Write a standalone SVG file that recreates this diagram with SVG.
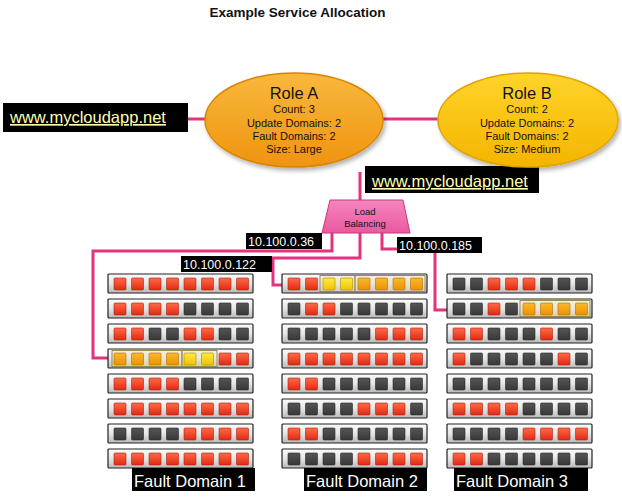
<svg xmlns="http://www.w3.org/2000/svg" xmlns:xlink="http://www.w3.org/1999/xlink" width="622" height="501" viewBox="0 0 622 501">
<defs>
<linearGradient id="gA" x1="0" y1="0" x2="0" y2="1"><stop offset="0" stop-color="#f9b83c"/><stop offset="1" stop-color="#ef9410"/></linearGradient>
<linearGradient id="gB" x1="0" y1="0" x2="0" y2="1"><stop offset="0" stop-color="#ffd42a"/><stop offset="1" stop-color="#f4b400"/></linearGradient>
<linearGradient id="gLB" x1="0" y1="0" x2="0" y2="1"><stop offset="0" stop-color="#f585be"/><stop offset="1" stop-color="#e9599f"/></linearGradient>
<linearGradient id="gRk" x1="0" y1="0" x2="0" y2="1"><stop offset="0" stop-color="#fbfbfb"/><stop offset="0.5" stop-color="#e6e6e6"/><stop offset="1" stop-color="#b9b9b9"/></linearGradient>
<linearGradient id="gR" x1="0" y1="0" x2="0" y2="1"><stop offset="0" stop-color="#ff6a48"/><stop offset="1" stop-color="#e02a12"/></linearGradient>
<linearGradient id="gD" x1="0" y1="0" x2="0" y2="1"><stop offset="0" stop-color="#555"/><stop offset="1" stop-color="#383838"/></linearGradient>
<linearGradient id="gO" x1="0" y1="0" x2="0" y2="1"><stop offset="0" stop-color="#fbb830"/><stop offset="1" stop-color="#ec9200"/></linearGradient>
<linearGradient id="gY" x1="0" y1="0" x2="0" y2="1"><stop offset="0" stop-color="#ffe84a"/><stop offset="1" stop-color="#efc400"/></linearGradient>
<filter id="sh" x="-10%" y="-10%" width="130%" height="130%"><feDropShadow dx="2" dy="3" stdDeviation="2" flood-color="#000" flood-opacity="0.3"/></filter>
<rect id="s" y="4" width="12" height="12" rx="1"/>
</defs>
<style>
text{font-family:"Liberation Sans",Arial,sans-serif}
.title{font-weight:bold;font-size:13.5px;fill:#111}
.lbl{fill:#000}
.url{font-size:16.5px;fill:#ffffb0;text-decoration:underline}
.ip{font-size:12.5px;fill:#fff}
.fd{font-size:16.5px;fill:#fff}
.rt{font-size:16.5px;fill:#111}
.rs{font-size:11px;fill:#111}
.ln{fill:none;stroke:#e3337f;stroke-width:3}
.rk{fill:url(#gRk);stroke:#222;stroke-width:1.2}
.r{fill:url(#gR);stroke:#b02210;stroke-width:0.6}
.d{fill:url(#gD);stroke:#2a2a2a;stroke-width:0.6}
.o{fill:url(#gO);stroke:#b07000;stroke-width:0.6}
.y{fill:url(#gY);stroke:#a88a00;stroke-width:0.6}
.hb{fill:#f3e3b0;fill-opacity:0.35;stroke:#9a8a50;stroke-width:1}
</style>

<text class="title" x="297.5" y="17" text-anchor="middle">Example Service Allocation</text>

<g id="connectors">
<line class="ln" x1="188" y1="119" x2="206" y2="119"/>
<line class="ln" x1="382" y1="119" x2="440" y2="119"/>
<line class="ln" x1="360" y1="172" x2="360" y2="201"/>
<polyline class="ln" points="332,232 332,251 93,251 93,358 109,358"/>
<polyline class="ln" points="360,232 360,258 273,258 273,285 283,285"/>
<polyline class="ln" points="382,232 382,249 435,249 435,310 448,310"/>
<g id="ip36"><rect class="lbl" x="246" y="233" width="76" height="16"/><text class="ip" x="248" y="246">10.100.0.36</text></g>
<g id="ip122"><rect class="lbl" x="181" y="256" width="91" height="16"/><text class="ip" x="183" y="269">10.100.0.122</text></g>
<g id="ip185"><rect class="lbl" x="397" y="237" width="85" height="16"/><text class="ip" x="399" y="250">10.100.0.185</text></g>
</g>

<g id="url1"><rect class="lbl" x="3" y="103" width="185" height="29"/><text class="url" x="10" y="123">www.mycloudapp.net</text></g>
<g id="url2"><rect class="lbl" x="365" y="166" width="174" height="27"/><text class="url" x="372" y="187">www.mycloudapp.net</text></g>

<g id="roleA">
<ellipse cx="294" cy="120" rx="89" ry="47" fill="url(#gA)" stroke="#d98500" stroke-width="1.5" filter="url(#sh)"/>
<text class="rt" x="294" y="99" text-anchor="middle">Role A</text>
<text class="rs" x="294" y="113" text-anchor="middle">Count: 3</text>
<text class="rs" x="294" y="127" text-anchor="middle">Update Domains: 2</text>
<text class="rs" x="294" y="140" text-anchor="middle">Fault Domains: 2</text>
<text class="rs" x="294" y="153" text-anchor="middle">Size: Large</text>
</g>
<g id="roleB">
<ellipse cx="528" cy="120" rx="90" ry="47" fill="url(#gB)" stroke="#e0a400" stroke-width="1.5" filter="url(#sh)"/>
<text class="rt" x="527" y="99" text-anchor="middle">Role B</text>
<text class="rs" x="527" y="113" text-anchor="middle">Count: 2</text>
<text class="rs" x="527" y="127" text-anchor="middle">Update Domains: 2</text>
<text class="rs" x="527" y="140" text-anchor="middle">Fault Domains: 2</text>
<text class="rs" x="527" y="153" text-anchor="middle">Size: Medium</text>
</g>

<g id="lb">
<polygon points="330,200 403,200 410,233 322,233" fill="url(#gLB)" stroke="#c8397c" stroke-width="1"/>
<text x="365" y="215" text-anchor="middle" font-size="9.5" fill="#111">Load</text>
<text x="365" y="227" text-anchor="middle" font-size="9.5" fill="#111">Balancing</text>
</g>

<g id="fd1">
<g transform="translate(108,274)"><rect class="rk" width="145" height="19" rx="1"/><use href="#s" x="6" class="r"/><use href="#s" x="23.5" class="r"/><use href="#s" x="41" class="r"/><use href="#s" x="58.5" class="r"/><use href="#s" x="76" class="r"/><use href="#s" x="93.5" class="r"/><use href="#s" x="111" class="r"/><use href="#s" x="128.5" class="r"/></g>
<g transform="translate(108,299)"><rect class="rk" width="145" height="19" rx="1"/><use href="#s" x="6" class="r"/><use href="#s" x="23.5" class="r"/><use href="#s" x="41" class="r"/><use href="#s" x="58.5" class="r"/><use href="#s" x="76" class="d"/><use href="#s" x="93.5" class="d"/><use href="#s" x="111" class="d"/><use href="#s" x="128.5" class="d"/></g>
<g transform="translate(108,324)"><rect class="rk" width="145" height="19" rx="1"/><use href="#s" x="6" class="r"/><use href="#s" x="23.5" class="r"/><use href="#s" x="41" class="d"/><use href="#s" x="58.5" class="d"/><use href="#s" x="76" class="r"/><use href="#s" x="93.5" class="r"/><use href="#s" x="111" class="d"/><use href="#s" x="128.5" class="d"/></g>
<g transform="translate(108,349)"><rect class="rk" width="145" height="19" rx="1"/><rect class="hb" x="4" y="1.5" width="70" height="16"/><rect class="hb" x="74" y="1.5" width="35" height="16" stroke="#c8b040"/><use href="#s" x="6" class="o"/><use href="#s" x="23.5" class="o"/><use href="#s" x="41" class="o"/><use href="#s" x="58.5" class="o"/><use href="#s" x="76" class="y"/><use href="#s" x="93.5" class="y"/><use href="#s" x="111" class="r"/><use href="#s" x="128.5" class="r"/></g>
<g transform="translate(108,374)"><rect class="rk" width="145" height="19" rx="1"/><use href="#s" x="6" class="r"/><use href="#s" x="23.5" class="r"/><use href="#s" x="41" class="r"/><use href="#s" x="58.5" class="r"/><use href="#s" x="76" class="d"/><use href="#s" x="93.5" class="d"/><use href="#s" x="111" class="d"/><use href="#s" x="128.5" class="d"/></g>
<g transform="translate(108,399)"><rect class="rk" width="145" height="19" rx="1"/><use href="#s" x="6" class="r"/><use href="#s" x="23.5" class="r"/><use href="#s" x="41" class="r"/><use href="#s" x="58.5" class="r"/><use href="#s" x="76" class="r"/><use href="#s" x="93.5" class="r"/><use href="#s" x="111" class="r"/><use href="#s" x="128.5" class="r"/></g>
<g transform="translate(108,424)"><rect class="rk" width="145" height="19" rx="1"/><use href="#s" x="6" class="d"/><use href="#s" x="23.5" class="d"/><use href="#s" x="41" class="d"/><use href="#s" x="58.5" class="d"/><use href="#s" x="76" class="r"/><use href="#s" x="93.5" class="r"/><use href="#s" x="111" class="r"/><use href="#s" x="128.5" class="r"/></g>
<g transform="translate(108,449)"><rect class="rk" width="145" height="19" rx="1"/><use href="#s" x="6" class="r"/><use href="#s" x="23.5" class="r"/><use href="#s" x="41" class="r"/><use href="#s" x="58.5" class="r"/><use href="#s" x="76" class="r"/><use href="#s" x="93.5" class="r"/><use href="#s" x="111" class="r"/><use href="#s" x="128.5" class="r"/></g>
<rect class="lbl" x="132" y="468" width="123" height="23"/><text class="fd" x="134" y="487">Fault Domain 1</text>
</g>

<g id="fd2">
<g transform="translate(282,274)"><rect class="rk" width="145" height="19" rx="1"/><rect class="hb" x="38" y="1.5" width="35" height="16" stroke="#c8b040"/><rect class="hb" x="73" y="1.5" width="70" height="16"/><use href="#s" x="6" class="r"/><use href="#s" x="23.5" class="r"/><use href="#s" x="41" class="y"/><use href="#s" x="58.5" class="y"/><use href="#s" x="76" class="o"/><use href="#s" x="93.5" class="o"/><use href="#s" x="111" class="o"/><use href="#s" x="128.5" class="o"/></g>
<g transform="translate(282,299)"><rect class="rk" width="145" height="19" rx="1"/><use href="#s" x="6" class="d"/><use href="#s" x="23.5" class="r"/><use href="#s" x="41" class="r"/><use href="#s" x="58.5" class="d"/><use href="#s" x="76" class="d"/><use href="#s" x="93.5" class="d"/><use href="#s" x="111" class="d"/><use href="#s" x="128.5" class="d"/></g>
<g transform="translate(282,324)"><rect class="rk" width="145" height="19" rx="1"/><use href="#s" x="6" class="d"/><use href="#s" x="23.5" class="d"/><use href="#s" x="41" class="d"/><use href="#s" x="58.5" class="d"/><use href="#s" x="76" class="d"/><use href="#s" x="93.5" class="r"/><use href="#s" x="111" class="r"/><use href="#s" x="128.5" class="r"/></g>
<g transform="translate(282,349)"><rect class="rk" width="145" height="19" rx="1"/><use href="#s" x="6" class="r"/><use href="#s" x="23.5" class="r"/><use href="#s" x="41" class="r"/><use href="#s" x="58.5" class="r"/><use href="#s" x="76" class="r"/><use href="#s" x="93.5" class="r"/><use href="#s" x="111" class="r"/><use href="#s" x="128.5" class="r"/></g>
<g transform="translate(282,374)"><rect class="rk" width="145" height="19" rx="1"/><use href="#s" x="6" class="r"/><use href="#s" x="23.5" class="r"/><use href="#s" x="41" class="d"/><use href="#s" x="58.5" class="d"/><use href="#s" x="76" class="d"/><use href="#s" x="93.5" class="d"/><use href="#s" x="111" class="d"/><use href="#s" x="128.5" class="d"/></g>
<g transform="translate(282,399)"><rect class="rk" width="145" height="19" rx="1"/><use href="#s" x="6" class="d"/><use href="#s" x="23.5" class="d"/><use href="#s" x="41" class="d"/><use href="#s" x="58.5" class="d"/><use href="#s" x="76" class="r"/><use href="#s" x="93.5" class="r"/><use href="#s" x="111" class="r"/><use href="#s" x="128.5" class="d"/></g>
<g transform="translate(282,424)"><rect class="rk" width="145" height="19" rx="1"/><use href="#s" x="6" class="r"/><use href="#s" x="23.5" class="r"/><use href="#s" x="41" class="d"/><use href="#s" x="58.5" class="d"/><use href="#s" x="76" class="d"/><use href="#s" x="93.5" class="d"/><use href="#s" x="111" class="d"/><use href="#s" x="128.5" class="d"/></g>
<g transform="translate(282,449)"><rect class="rk" width="145" height="19" rx="1"/><use href="#s" x="6" class="d"/><use href="#s" x="23.5" class="d"/><use href="#s" x="41" class="d"/><use href="#s" x="58.5" class="d"/><use href="#s" x="76" class="r"/><use href="#s" x="93.5" class="r"/><use href="#s" x="111" class="r"/><use href="#s" x="128.5" class="r"/></g>
<rect class="lbl" x="304" y="468" width="123" height="23"/><text class="fd" x="306" y="487">Fault Domain 2</text>
</g>

<g id="fd3">
<g transform="translate(447,274)"><rect class="rk" width="145" height="19" rx="1"/><use href="#s" x="6" class="d"/><use href="#s" x="23.5" class="d"/><use href="#s" x="41" class="r"/><use href="#s" x="58.5" class="r"/><use href="#s" x="76" class="r"/><use href="#s" x="93.5" class="d"/><use href="#s" x="111" class="d"/><use href="#s" x="128.5" class="d"/></g>
<g transform="translate(447,299)"><rect class="rk" width="145" height="19" rx="1"/><rect class="hb" x="73" y="1.5" width="70" height="16" stroke="#444"/><use href="#s" x="6" class="d"/><use href="#s" x="23.5" class="d"/><use href="#s" x="41" class="r"/><use href="#s" x="58.5" class="d"/><use href="#s" x="76" class="o"/><use href="#s" x="93.5" class="o"/><use href="#s" x="111" class="o"/><use href="#s" x="128.5" class="o"/></g>
<g transform="translate(447,324)"><rect class="rk" width="145" height="19" rx="1"/><use href="#s" x="6" class="r"/><use href="#s" x="23.5" class="r"/><use href="#s" x="41" class="d"/><use href="#s" x="58.5" class="d"/><use href="#s" x="76" class="d"/><use href="#s" x="93.5" class="r"/><use href="#s" x="111" class="d"/><use href="#s" x="128.5" class="d"/></g>
<g transform="translate(447,349)"><rect class="rk" width="145" height="19" rx="1"/><use href="#s" x="6" class="r"/><use href="#s" x="23.5" class="d"/><use href="#s" x="41" class="d"/><use href="#s" x="58.5" class="d"/><use href="#s" x="76" class="d"/><use href="#s" x="93.5" class="d"/><use href="#s" x="111" class="r"/><use href="#s" x="128.5" class="d"/></g>
<g transform="translate(447,374)"><rect class="rk" width="145" height="19" rx="1"/><use href="#s" x="6" class="d"/><use href="#s" x="23.5" class="d"/><use href="#s" x="41" class="d"/><use href="#s" x="58.5" class="d"/><use href="#s" x="76" class="d"/><use href="#s" x="93.5" class="d"/><use href="#s" x="111" class="d"/><use href="#s" x="128.5" class="d"/></g>
<g transform="translate(447,399)"><rect class="rk" width="145" height="19" rx="1"/><use href="#s" x="6" class="r"/><use href="#s" x="23.5" class="r"/><use href="#s" x="41" class="r"/><use href="#s" x="58.5" class="r"/><use href="#s" x="76" class="d"/><use href="#s" x="93.5" class="d"/><use href="#s" x="111" class="d"/><use href="#s" x="128.5" class="d"/></g>
<g transform="translate(447,424)"><rect class="rk" width="145" height="19" rx="1"/><use href="#s" x="6" class="d"/><use href="#s" x="23.5" class="d"/><use href="#s" x="41" class="d"/><use href="#s" x="58.5" class="d"/><use href="#s" x="76" class="r"/><use href="#s" x="93.5" class="r"/><use href="#s" x="111" class="r"/><use href="#s" x="128.5" class="r"/></g>
<g transform="translate(447,449)"><rect class="rk" width="145" height="19" rx="1"/><use href="#s" x="6" class="r"/><use href="#s" x="23.5" class="r"/><use href="#s" x="41" class="d"/><use href="#s" x="58.5" class="d"/><use href="#s" x="76" class="d"/><use href="#s" x="93.5" class="d"/><use href="#s" x="111" class="d"/><use href="#s" x="128.5" class="d"/></g>
<rect class="lbl" x="454" y="468" width="134" height="23"/><text class="fd" x="456" y="487">Fault Domain 3</text>
</g>
</svg>
